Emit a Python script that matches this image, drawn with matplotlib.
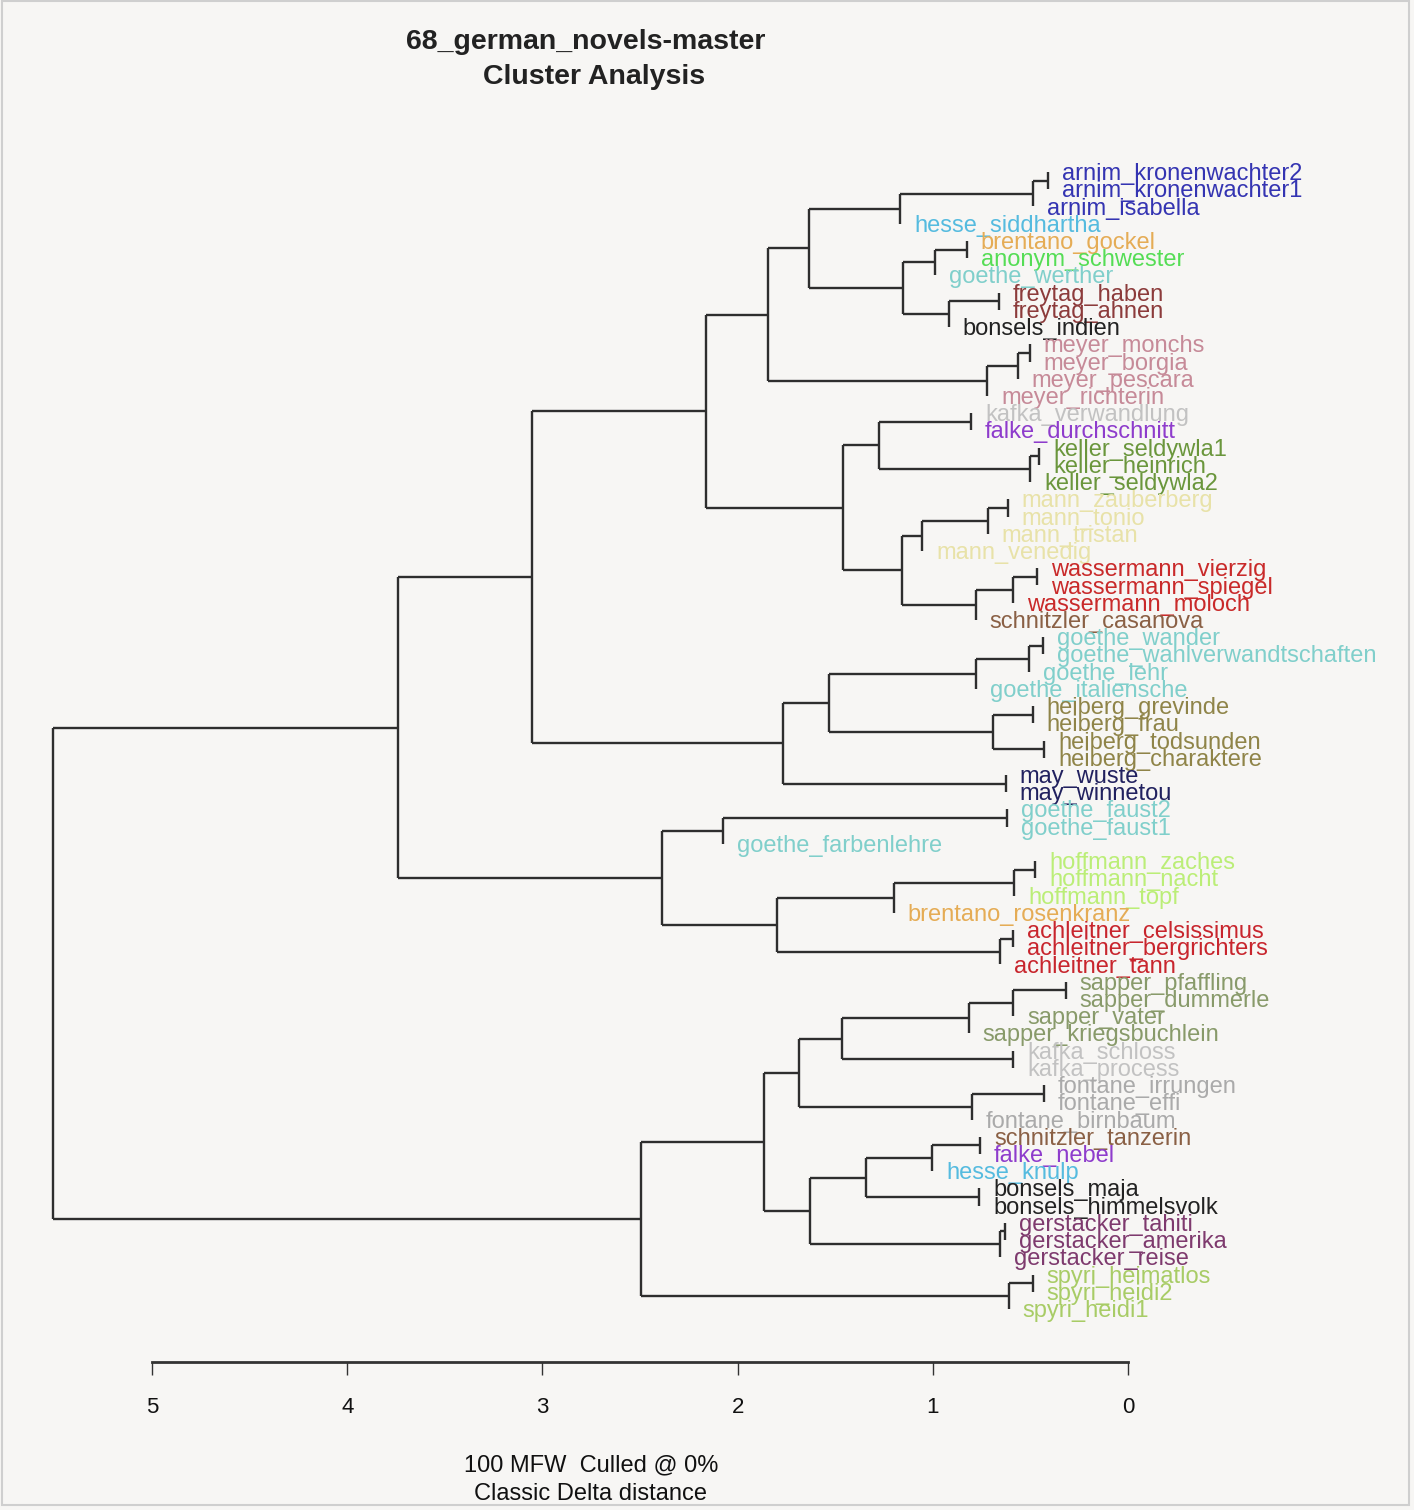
import matplotlib
matplotlib.use("Agg")
import matplotlib.pyplot as plt
from matplotlib.patches import Rectangle

# ---------------- data ----------------
labels = [
    "arnim_kronenwachter2", "arnim_kronenwachter1", "arnim_isabella", "hesse_siddhartha",
    "brentano_gockel", "anonym_schwester", "goethe_werther", "freytag_haben", "freytag_ahnen",
    "bonsels_indien", "meyer_monchs", "meyer_borgia", "meyer_pescara", "meyer_richterin",
    "kafka_verwandlung", "falke_durchschnitt", "keller_seldywla1", "keller_heinrich",
    "keller_seldywla2", "mann_zauberberg", "mann_tonio", "mann_tristan", "mann_venedig",
    "wassermann_vierzig", "wassermann_spiegel", "wassermann_moloch", "schnitzler_casanova",
    "goethe_wander", "goethe_wahlverwandtschaften", "goethe_lehr", "goethe_italiensche",
    "heiberg_grevinde", "heiberg_frau", "heiberg_todsunden", "heiberg_charaktere",
    "may_wuste", "may_winnetou", "goethe_faust2", "goethe_faust1", "goethe_farbenlehre",
    "hoffmann_zaches", "hoffmann_nacht", "hoffmann_topf", "brentano_rosenkranz",
    "achleitner_celsissimus", "achleitner_bergrichters", "achleitner_tann",
    "sapper_pfaffling", "sapper_dummerle", "sapper_vater", "sapper_kriegsbuchlein",
    "kafka_schloss", "kafka_process", "fontane_irrungen", "fontane_effi", "fontane_birnbaum",
    "schnitzler_tanzerin", "falke_nebel", "hesse_knulp", "bonsels_maja", "bonsels_himmelsvolk",
    "gerstacker_tahiti", "gerstacker_amerika", "gerstacker_reise",
    "spyri_heimatlos", "spyri_heidi2", "spyri_heidi1",
]

# merges: node index = len(labels) + merge number (like a linkage table)
merge_left = [0, 67, 68, 4, 70, 7, 72, 71, 69, 10, 76, 77, 75, 14, 16, 81, 80, 19, 84, 85,
              23, 87, 88, 86, 83, 79, 27, 93, 94, 31, 33, 96, 95, 35, 99, 92, 37, 103, 40, 105,
              106, 44, 108, 107, 104, 102, 47, 113, 114, 51, 115, 53, 118, 117, 56, 121, 59, 122,
              61, 125, 124, 120, 64, 129, 128, 112]
merge_right = [1, 2, 3, 5, 6, 8, 9, 73, 74, 11, 12, 13, 78, 15, 17, 18, 82, 20, 21, 22,
               24, 25, 26, 89, 90, 91, 28, 29, 30, 32, 34, 97, 98, 36, 100, 101, 38, 39, 41, 42,
               43, 45, 46, 109, 110, 111, 48, 49, 50, 52, 116, 54, 55, 119, 57, 58, 60, 123,
               62, 63, 126, 127, 65, 66, 130, 131]
merge_height = [0.410, 0.487, 1.168, 0.825, 0.989, 0.661, 0.917, 1.153, 1.634, 0.502,
                0.564, 0.722, 1.844, 0.804, 0.456, 0.502, 1.276, 0.615, 0.717, 1.055,
                0.466, 0.589, 0.779, 1.158, 1.460, 2.162, 0.435, 0.507, 0.779, 0.487,
                0.430, 0.692, 1.532, 0.625, 1.767, 3.053, 0.620, 2.075, 0.476, 0.584,
                1.199, 0.589, 0.656, 1.798, 2.387, 3.740, 0.318, 0.589, 0.815, 0.589,
                1.465, 0.430, 0.799, 1.685, 0.758, 1.004, 0.763, 1.342, 0.630, 0.656,
                1.629, 1.865, 0.487, 0.610, 2.495, 5.507]

author_colors = {
    "arnim": "#3434b2", "hesse": "#55bbdf", "brentano": "#e5ac55", "anonym": "#55dd55",
    "goethe": "#80cfcb", "freytag": "#8c3b3b", "bonsels": "#222222", "meyer": "#c68a98",
    "kafka": "#c2c2c2", "falke": "#8e3ccc", "keller": "#6a963c", "mann": "#e8e2a8",
    "wassermann": "#c92a2a", "schnitzler": "#8a6045", "heiberg": "#8f8448", "may": "#21215f",
    "hoffmann": "#bbee77", "achleitner": "#c8252d", "sapper": "#889a6a", "fontane": "#aaaaaa",
    "gerstacker": "#7e3a6e", "spyri": "#a8cc66",
}

title_lines = ["68_german_novels-master", "Cluster Analysis"]
xlabel_lines = ["100 MFW  Culled @ 0%", "Classic Delta distance"]
xticks = [5, 4, 3, 2, 1, 0]

# ---------------- figure ----------------
W, H = 1414, 1510
bg = "#f7f6f4"
fig = plt.figure(figsize=(W / 100, H / 100), dpi=100, facecolor=bg)

ax_left, ax_right = 152, 1128
ax_top, ax_bottom = 150, 1362
ax = fig.add_axes([ax_left / W, (H - ax_bottom) / H,
                   (ax_right - ax_left) / W, (ax_bottom - ax_top) / H])
ax.set_facecolor("none")

n = len(labels)
step = (1309 - 172) / (n - 1)
ax.set_xlim(5, 0)
ax.set_ylim(n - 1 + (ax_bottom - 1309) / step, -(172 - ax_top) / step)

# compute node positions
node_x = {}
node_y = {i: float(i) for i in range(n)}
leaf_parent_h = {}
for k, (a, b, h) in enumerate(zip(merge_left, merge_right, merge_height)):
    idx = n + k
    for c in (a, b):
        if c < n:
            node_x[c] = h
            leaf_parent_h[c] = h
    node_x[idx] = h
    node_y[idx] = (node_y[a] + node_y[b]) / 2.0

line_kw = dict(color="#2e2e2e", lw=1.7, clip_on=False, solid_capstyle="butt")
for k, (a, b, h) in enumerate(zip(merge_left, merge_right, merge_height)):
    ya, yb = node_y[a], node_y[b]
    ax.plot([h, h], [ya, yb], **line_kw)
    for c in (a, b):
        if c >= n:
            ax.plot([node_x[c], h], [node_y[c], node_y[c]], **line_kw)

fam = ["Liberation Sans", "DejaVu Sans"]
for i, lab in enumerate(labels):
    col = author_colors[lab.split("_")[0]]
    ax.annotate(lab, xy=(leaf_parent_h[i], i), xytext=(10, -1.5), textcoords="offset points",
                ha="left", va="center", fontsize=17, color=col, family=fam,
                annotation_clip=False)

# axis
for s in ("top", "left", "right"):
    ax.spines[s].set_visible(False)
ax.spines["bottom"].set_linewidth(2.0)
ax.spines["bottom"].set_color("#333333")
ax.set_yticks([])
ax.set_xticks(xticks)
ax.set_xticklabels([str(t) for t in xticks], family=fam, fontsize=16, color="#111111")
ax.tick_params(axis="x", direction="out", length=9.5, width=1.0, color="#333333", pad=16)

# titles
fig.text(586 / W, 1 - 42 / H, title_lines[0], ha="center", va="center",
         fontsize=20.5, fontweight="bold", family=fam, color="#222222")
fig.text(594 / W, 1 - 77 / H, title_lines[1], ha="center", va="center",
         fontsize=20.5, fontweight="bold", family=fam, color="#222222")
fig.text(591 / W, 1 - 1465 / H, xlabel_lines[0], ha="center", va="center",
         fontsize=17, family=fam, color="#111111")
fig.text(591 / W, 1 - 1494 / H, xlabel_lines[1], ha="center", va="center",
         fontsize=17, family=fam, color="#111111")

# frame
fig.patches.append(Rectangle((1.5 / W, 5 / H), (1409 - 1.5) / W, (H - 6) / H,
                             transform=fig.transFigure, fill=False,
                             edgecolor="#cfcfcf", lw=1.5))

fig.savefig("out.png", dpi=100, facecolor=bg)
